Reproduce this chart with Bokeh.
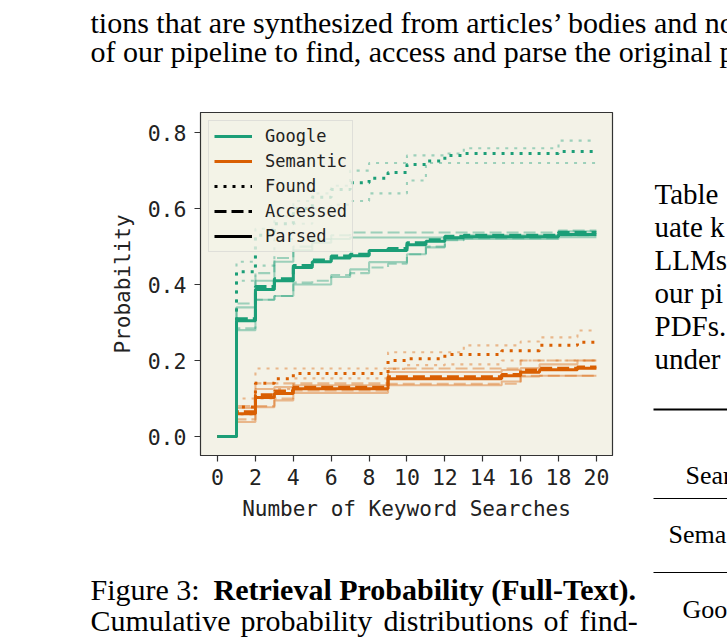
import numpy as np
from bokeh.plotting import figure
from bokeh.models import Legend, LegendItem, FixedTicker, PrintfTickFormatter, Range1d
from bokeh.layouts import row, column
from bokeh.core.properties import value
from bokeh.embed import file_html
from bokeh.resources import INLINE

# ---------------- data ----------------
searches = list(range(21))
x_ticks = list(range(0, 21, 2))
y_ticks = [0.0, 0.2, 0.4, 0.6, 0.8]

google_found = [0, 0.434, 0.53, 0.56, 0.60, 0.63, 0.65, 0.668, 0.68, 0.695, 0.716, 0.725, 0.74, 0.745, 0.745, 0.745, 0.745, 0.745, 0.75, 0.75, 0.75]
google_found_hi = [0, 0.46, 0.547, 0.58, 0.62, 0.64, 0.66, 0.70, 0.72, 0.72, 0.74, 0.74, 0.745, 0.759, 0.759, 0.759, 0.759, 0.759, 0.779, 0.779, 0.779]
google_found_lo = [0, 0.41, 0.45, 0.52, 0.56, 0.60, 0.61, 0.62, 0.64, 0.64, 0.674, 0.72, 0.72, 0.72, 0.72, 0.72, 0.72, 0.72, 0.72, 0.72, 0.72]

google_accessed = [0, 0.31, 0.395, 0.415, 0.45, 0.465, 0.475, 0.48, 0.49, 0.495, 0.51, 0.518, 0.527, 0.53, 0.53, 0.53, 0.53, 0.53, 0.537, 0.537, 0.537]
google_accessed_hi = [0, 0.35, 0.43, 0.47, 0.50, 0.52, 0.53, 0.537, 0.537, 0.537, 0.537, 0.537, 0.537, 0.537, 0.537, 0.537, 0.537, 0.537, 0.542, 0.542, 0.542]
google_accessed_lo = [0, 0.285, 0.36, 0.37, 0.405, 0.41, 0.425, 0.43, 0.445, 0.455, 0.48, 0.50, 0.517, 0.522, 0.522, 0.522, 0.522, 0.522, 0.53, 0.53, 0.53]

google_parsed = [0, 0.305, 0.387, 0.41, 0.445, 0.46, 0.47, 0.476, 0.49, 0.49, 0.505, 0.514, 0.523, 0.526, 0.526, 0.526, 0.526, 0.526, 0.532, 0.532, 0.532]
google_parsed_hi = [0, 0.34, 0.41, 0.46, 0.49, 0.51, 0.52, 0.524, 0.524, 0.524, 0.524, 0.524, 0.524, 0.53, 0.53, 0.53, 0.53, 0.53, 0.54, 0.54, 0.54]
google_parsed_lo = [0, 0.28, 0.36, 0.37, 0.40, 0.40, 0.42, 0.44, 0.459, 0.459, 0.48, 0.498, 0.518, 0.52, 0.52, 0.52, 0.52, 0.52, 0.525, 0.525, 0.525]

semantic_found = [0, 0.078, 0.14, 0.152, 0.166, 0.166, 0.166, 0.166, 0.166, 0.2, 0.205, 0.205, 0.216, 0.216, 0.216, 0.226, 0.226, 0.24, 0.24, 0.248, 0.248]
semantic_found_hi = [0, 0.10, 0.179, 0.179, 0.179, 0.179, 0.179, 0.179, 0.179, 0.222, 0.222, 0.222, 0.222, 0.24, 0.24, 0.24, 0.25, 0.261, 0.261, 0.279, 0.279]
semantic_found_lo = [0, 0.058, 0.10, 0.125, 0.153, 0.153, 0.153, 0.153, 0.153, 0.178, 0.188, 0.188, 0.19, 0.19, 0.19, 0.2, 0.2, 0.2, 0.2, 0.2, 0.2]

semantic_accessed = [0, 0.065, 0.11, 0.12, 0.13, 0.13, 0.13, 0.13, 0.13, 0.157, 0.157, 0.157, 0.157, 0.157, 0.157, 0.163, 0.175, 0.18, 0.18, 0.183, 0.183]
semantic_accessed_hi = [0, 0.08, 0.14, 0.14, 0.14, 0.14, 0.14, 0.14, 0.14, 0.179, 0.179, 0.179, 0.179, 0.179, 0.179, 0.179, 0.2, 0.2, 0.2, 0.2, 0.2]
semantic_accessed_lo = [0, 0.045, 0.08, 0.10, 0.121, 0.121, 0.121, 0.121, 0.121, 0.139, 0.139, 0.139, 0.139, 0.139, 0.139, 0.139, 0.16, 0.16, 0.16, 0.16, 0.16]

semantic_parsed = [0, 0.06, 0.103, 0.113, 0.126, 0.126, 0.126, 0.126, 0.126, 0.152, 0.152, 0.152, 0.152, 0.152, 0.152, 0.16, 0.169, 0.176, 0.176, 0.18, 0.18]
semantic_parsed_hi = [0, 0.075, 0.125, 0.13, 0.135, 0.135, 0.135, 0.135, 0.135, 0.17, 0.17, 0.17, 0.17, 0.17, 0.17, 0.175, 0.18, 0.19, 0.19, 0.2, 0.2]
semantic_parsed_lo = [0, 0.038, 0.077, 0.095, 0.115, 0.115, 0.115, 0.115, 0.115, 0.135, 0.135, 0.135, 0.135, 0.135, 0.135, 0.145, 0.158, 0.16, 0.16, 0.16, 0.16]

engines = ["Google", "Semantic"]
stages = ["Found", "Accessed", "Parsed"]

# surrounding page text
top_lines = ["tions that are synthesized from articles\u2019 bodies and no",
             "of our pipeline to find, access and parse the original p"]
right_lines = ["Table", "uate k", "LLMs", "our pi", "PDFs.", "under"]
table_cells = ["Sear", "Sema", "Goo"]
caption_regular = "Figure 3:"
caption_bold = "Retrieval Probability (Full-Text)."
caption_line2_words = ["Cumulative", "probability", "distributions", "of", "find-"]

# ---------------- style ----------------
GREEN = "#1b9e77"
ORANGE = "#d95f02"
BG = "#f3f2e7"
MONO = "DejaVu Sans Mono"
SERIF = "Liberation Serif"
DASH = {"Found": "3 6", "Accessed": "12 5", "Parsed": "solid"}
COLOR = {"Google": GREEN, "Semantic": ORANGE}
MAIN_W = 3.0
LIGHT_W = 2.1

series = {
    ("Google", "Found"): (google_found, google_found_lo, google_found_hi),
    ("Google", "Accessed"): (google_accessed, google_accessed_lo, google_accessed_hi),
    ("Google", "Parsed"): (google_parsed, google_parsed_lo, google_parsed_hi),
    ("Semantic", "Found"): (semantic_found, semantic_found_lo, semantic_found_hi),
    ("Semantic", "Accessed"): (semantic_accessed, semantic_accessed_lo, semantic_accessed_hi),
    ("Semantic", "Parsed"): (semantic_parsed, semantic_parsed_lo, semantic_parsed_hi),
}

# ---------------- chart ----------------
CW, CH = 640, 453
p = figure(width=CW, height=CH, output_backend="svg", toolbar_location=None,
           x_range=Range1d(-0.9, 20.85), y_range=Range1d(-0.05, 0.853),
           min_border_left=200, min_border_right=28, min_border_top=0, min_border_bottom=110,
           background_fill_color=BG, border_fill_color="white")
p.outline_line_color = "#333333"
p.outline_line_width = 1.2
p.grid.visible = False

p.xaxis.ticker = FixedTicker(ticks=x_ticks)
p.yaxis.ticker = FixedTicker(ticks=y_ticks)
p.yaxis.formatter = PrintfTickFormatter(format="%.1f")
for ax in (p.xaxis, p.yaxis):
    ax.major_label_text_font = MONO
    ax.major_label_text_font_size = "21.5px"
    ax.major_label_text_color = "#222222"
    ax.axis_label_text_font = MONO
    ax.axis_label_text_font_size = "21px"
    ax.axis_label_text_font_style = "normal"
    ax.axis_label_text_color = "#222222"
    ax.major_tick_out = 6
    ax.major_tick_in = 0
    ax.minor_tick_line_color = None
    ax.axis_line_color = "#333333"
    ax.major_tick_line_color = "#333333"
    ax.major_tick_line_width = 1.2
p.xaxis.major_label_standoff = 7
p.yaxis.major_label_standoff = 8
p.xaxis.axis_label = "Number of Keyword Searches"
p.yaxis.axis_label = "Probability"
p.xaxis.axis_label_standoff = 9
p.yaxis.axis_label_standoff = 10

for eng in ["Semantic", "Google"]:
    for st in stages:
        _, lo, hi = series[(eng, st)]
        for arr in (lo, hi):
            p.step(searches, arr, mode="after", line_color=COLOR[eng], line_alpha=0.4,
                   line_width=LIGHT_W, line_dash=DASH[st])
main = {}
for eng in ["Semantic", "Google"]:
    for st in stages:
        mean, _, _ = series[(eng, st)]
        main[(eng, st)] = p.step(searches, mean, mode="after", line_color=COLOR[eng],
                                 line_width=MAIN_W, line_dash=DASH[st])

nan2 = np.array([np.nan, np.nan])
items = [LegendItem(label=eng, renderers=[main[(eng, "Parsed")]]) for eng in engines]
for st in stages:
    r = p.line(np.array([0.0, 1.0]), nan2, line_color="black", line_width=MAIN_W,
               line_dash=DASH[st])
    items.append(LegendItem(label=st, renderers=[r]))
legend = Legend(items=items, location="top_left", margin=8, padding=5, spacing=5,
                glyph_width=38, glyph_height=20, label_height=20, label_standoff=13,
                label_text_font=MONO, label_text_font_size="17px", label_text_color="#222222",
                border_line_color="#cccccc", border_line_width=1,
                background_fill_color=BG, background_fill_alpha=0.8)
p.add_layout(legend)


# ---------------- page-text panels ----------------
def text_panel(w, h):
    f = figure(width=w, height=h, x_range=Range1d(0, w), y_range=Range1d(h, 0),
               output_backend="svg", toolbar_location=None, min_border=0,
               x_axis_location=None, y_axis_location=None,
               background_fill_color="white", border_fill_color="white")
    f.outline_line_color = None
    f.grid.visible = False
    return f


def put(f, xs, ys, texts, size="29px", style="normal"):
    f.text(x=xs, y=ys, text=texts, text_font=value(SERIF), text_font_size=value(size),
           text_font_style=value(style), text_color="black", text_baseline="alphabetic",
           text_align="left")


# top panel: canvas rows 0..112
top = text_panel(727, 112)
put(top, [90, 90], [22, 51], top_lines, size="30px")

# side panel: canvas x 640..727, rows 112..565
side = text_panel(87, 453)
put(side, [14] * len(right_lines), [81 + i * 33 for i in range(len(right_lines))], right_lines)
put(side, [45, 28], [363, 422], table_cells[:2], size="26px")
side.quad(left=[13, 13], right=[87, 87], top=[296, 385.5], bottom=[298, 386.5],
          fill_color="black", line_color=None)

# bottom panel: canvas rows 565..637
bottom = text_panel(727, 72)
put(bottom, [90], [24], [caption_regular], size="30px")
put(bottom, [213], [24], [caption_bold], size="30px", style="bold")
# justified second caption line (word starts)
put(bottom, [90, 240, 383, 543, 579], [55] * 5, caption_line2_words, size="30px")
put(bottom, [682], [44], table_cells[2:], size="26px")
bottom.quad(left=[653], right=[727], top=[6.5], bottom=[7.5], fill_color="black", line_color=None)

layout = column(column(top), row(p, column(side)), column(bottom))
open("out.html", "w").write(file_html(layout, INLINE))
